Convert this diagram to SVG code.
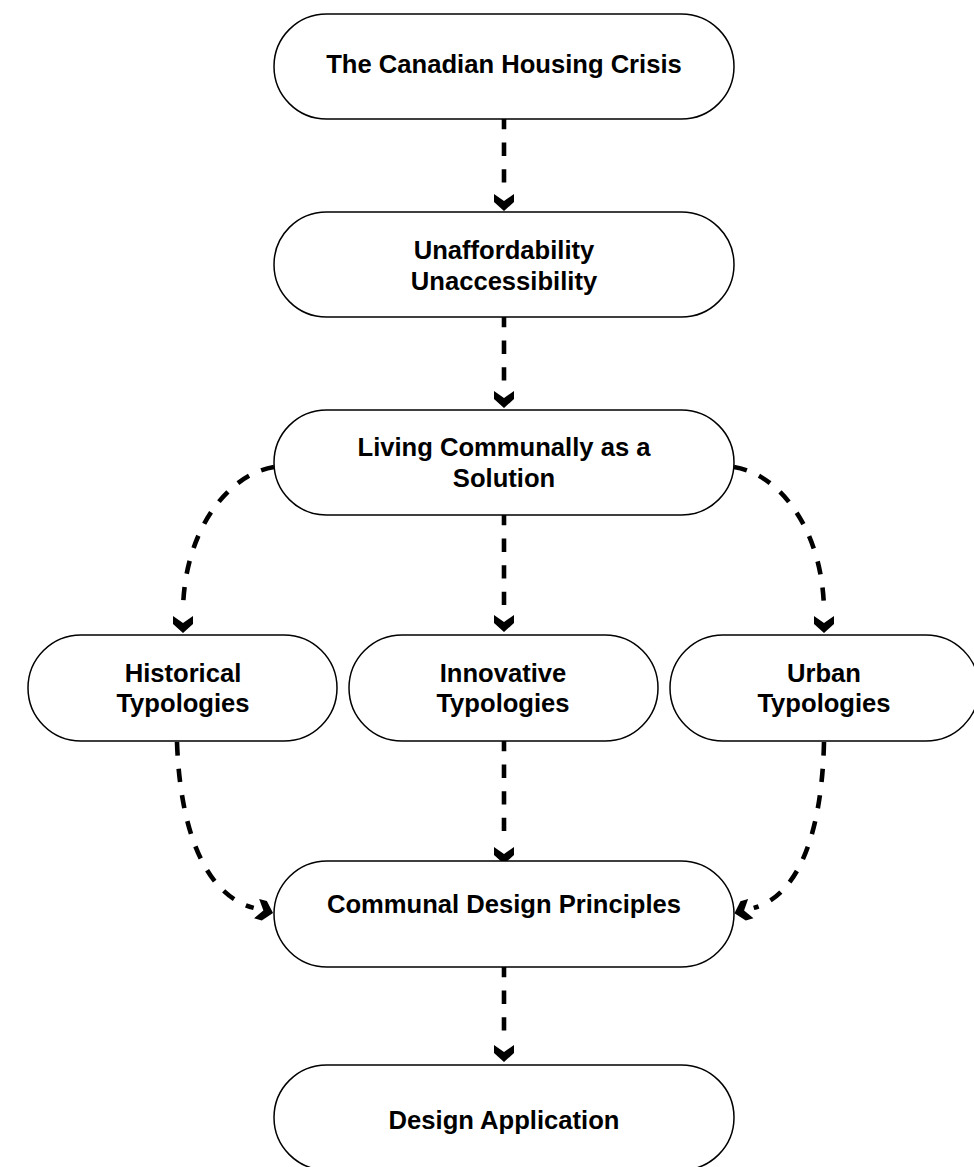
<svg xmlns="http://www.w3.org/2000/svg" width="974" height="1167" viewBox="0 0 974 1167">
<style>
.node{fill:#fff;stroke:#000;stroke-width:1.5}
.lbl{font-family:"Liberation Sans",Arial,sans-serif;font-weight:bold;font-size:25.6px;fill:#000;text-anchor:middle}
.edge{fill:none;stroke:#000;stroke-width:4.6;stroke-dasharray:13.3 13.3}
</style>
<defs>
<marker id="arr" markerUnits="userSpaceOnUse" orient="auto" viewBox="-10 -12 34 24" refX="0" refY="0" markerWidth="34" markerHeight="24" overflow="visible">
<polygon points="3,-10 10,0 3,10 11,10 20,0 11,-10" fill="#000"/>
</marker>
</defs>
<rect width="974" height="1167" fill="#fff"/>
<g id="connectors">
<path class="edge" d="M504,116 L504,191" marker-end="url(#arr)"/>
<path class="edge" d="M504,314 L504,388" marker-end="url(#arr)"/>
<path class="edge" d="M504,512 L504,612" marker-end="url(#arr)"/>
<path class="edge" d="M504,738 L504,844" marker-end="url(#arr)"/>
<path class="edge" d="M504,964 L504,1042" marker-end="url(#arr)"/>
<path class="edge" d="M274,467 C225,475 183,535 183,613" marker-end="url(#arr)"/>
<path class="edge" d="M734,467 C783,475 824,535 824,613" marker-end="url(#arr)"/>
<path class="edge" d="M177,742 C180,830 205,895 253.7,907.9" marker-end="url(#arr)"/>
<path class="edge" d="M824,742 C822,830 800,895 753.7,907.9" marker-end="url(#arr)"/>
</g>
<g id="n1"><rect class="node" x="274" y="14" width="460" height="105" rx="52.5"/><text class="lbl" x="504" y="73">The Canadian Housing Crisis</text></g>
<g id="n2"><rect class="node" x="274" y="212" width="460" height="105" rx="52.5"/><text class="lbl" x="504" y="259">Unaffordability</text><text class="lbl" x="504" y="290">Unaccessibility</text></g>
<g id="n3"><rect class="node" x="274" y="410" width="460" height="105" rx="52.5"/><text class="lbl" x="504" y="456">Living Communally as a</text><text class="lbl" x="504" y="487">Solution</text></g>
<g id="n4"><rect class="node" x="28" y="635" width="309" height="106" rx="53"/><text class="lbl" x="183" y="682">Historical</text><text class="lbl" x="183" y="712">Typologies</text></g>
<g id="n5"><rect class="node" x="349" y="635" width="309" height="106" rx="53"/><text class="lbl" x="503" y="682">Innovative</text><text class="lbl" x="503" y="712">Typologies</text></g>
<g id="n6"><rect class="node" x="670" y="635" width="309" height="106" rx="53"/><text class="lbl" x="824" y="682">Urban</text><text class="lbl" x="824" y="712">Typologies</text></g>
<g id="n7"><rect class="node" x="274" y="861" width="460" height="106" rx="53"/><text class="lbl" x="504" y="913">Communal Design Principles</text></g>
<g id="n8"><rect class="node" x="274" y="1065" width="460" height="105" rx="52.5"/><text class="lbl" x="504" y="1129">Design Application</text></g>
</svg>
